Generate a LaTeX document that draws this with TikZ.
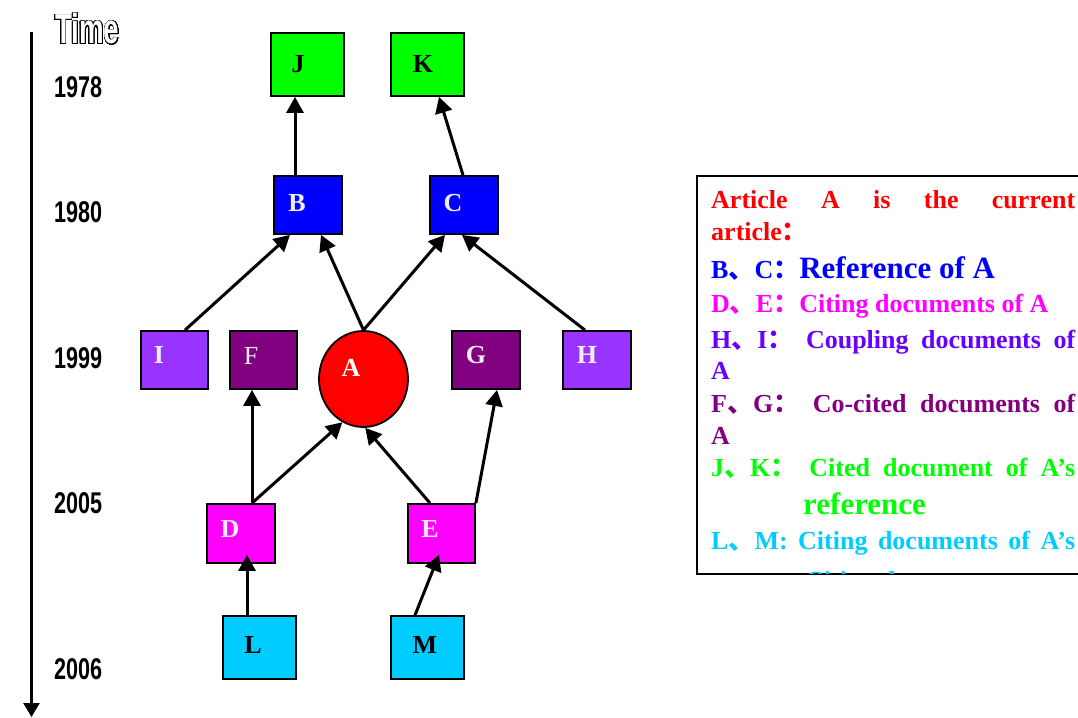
\documentclass[tikz,border=0pt]{standalone}
\usepackage{fontspec}
\setmainfont{Liberation Serif}
\newfontfamily\cjk{Noto Sans CJK SC}
\newfontfamily\yearfont[FakeStretch=0.72]{Liberation Sans}
\newfontfamily\timefont[FakeStretch=0.66]{Liberation Sans}
\usepackage{contour}
\contourlength{0.7pt}
\usetikzlibrary{arrows.meta,shapes.geometric,calc}
\definecolor{cGreen}{HTML}{00FF00}
\definecolor{cBlue}{HTML}{0000FF}
\definecolor{cLilac}{HTML}{9933FF}
\definecolor{cPlum}{HTML}{800080}
\definecolor{cRed}{HTML}{FF0000}
\definecolor{cMag}{HTML}{FF00FF}
\definecolor{cCyan}{HTML}{00CCFF}
\definecolor{cTxtPurple}{HTML}{6600FF}
\definecolor{cLabel}{HTML}{EEEEEE}
\begin{document}
\begin{tikzpicture}[x=1pt,y=-1pt,
  box/.style={draw=black, line width=1.8pt, inner sep=0pt},
  bigbox/.style={box, minimum width=73pt, minimum height=63pt},
  midbox/.style={box, minimum width=68pt, minimum height=58pt},
  lbl/.style={anchor=base, inner sep=0pt, font=\fontsize{26}{26}\selectfont\bfseries},
  conn/.style={line width=3pt, -{Triangle[length=16pt,width=17pt]}},
  year/.style={anchor=base west, inner sep=0pt, font=\yearfont\bfseries\fontsize{30}{30}\selectfont},
  leg/.style={anchor=base west, inner sep=0pt, font=\fontsize{26}{26}\selectfont\bfseries},
]
\useasboundingbox (0,0) rectangle (1078,717);

% time axis
\coordinate (ttop) at (31.5,32);
\coordinate (tbot) at (31.5,717);
\draw[line width=2.2pt,-{Triangle[length=14pt,width=16pt]}] (ttop) -- (tbot);
\node[anchor=base west, inner sep=0pt, text=white, font=\timefont\bfseries\fontsize{42}{42}\selectfont] (time) at (55,44) {\contour[40]{black}{Time}};
\node[year] (y1978) at (54,97) {1978};
\node[year] (y1980) at (54,222.5) {1980};
\node[year] (y1999) at (54,368) {1999};
\node[year] (y2005) at (54,513) {2005};
\node[year] (y2006) at (54,679) {2006};

% nodes
\node[bigbox, fill=cGreen] (J) at (307.5,64.5) {};
\node[bigbox, fill=cGreen] (K) at (427.5,64.5) {};
\node[midbox, fill=cBlue] (B) at (308,205) {};
\node[midbox, fill=cBlue] (C) at (464,205) {};
\node[midbox, minimum width=67pt, fill=cLilac] (I) at (174.5,360) {};
\node[midbox, minimum width=67pt, fill=cPlum] (F) at (263.5,360) {};
\node[ellipse, draw=black, line width=1.8pt, fill=cRed, inner sep=0pt, minimum width=89pt, minimum height=96pt] (A) at (363.5,379) {};
\node[midbox, fill=cPlum] (G) at (486,360) {};
\node[midbox, fill=cLilac] (H) at (597,360) {};
\node[midbox, minimum height=59pt, fill=cMag] (D) at (241,533.5) {};
\node[midbox, minimum width=67pt, minimum height=59pt, fill=cMag] (E) at (441.5,533.5) {};
\node[bigbox, fill=cCyan] (L) at (259.5,647.5) {};
\node[bigbox, fill=cCyan] (M) at (427.5,647.5) {};

% labels
\node[lbl] (Jl) at (298,72) {J};
\node[lbl] (Kl) at (423,72) {K};
\node[lbl, text=cLabel] (Bl) at (297,211) {B};
\node[lbl, text=cLabel] (Cl) at (453,211) {C};
\node[lbl, text=cLabel] (Il) at (159,363) {I};
\node[lbl, text=cLabel, font=\fontsize{26}{26}\selectfont] (Fl) at (251,364) {F};
\node[lbl, text=white] (Al) at (351,376) {A};
\node[lbl, text=cLabel] (Gl) at (476,363) {G};
\node[lbl, text=cLabel] (Hl) at (587,363) {H};
\node[lbl, text=cLabel] (Dl) at (230,537) {D};
\node[lbl, text=cLabel] (El) at (430,537) {E};
\node[lbl] (Ll) at (253,653) {L};
\node[lbl] (Ml) at (425,653) {M};

% connectors
\draw[conn] ([xshift=-13pt]B.north) -- ([xshift=-12.5pt]J.south);
\draw[conn] ([xshift=-1pt]C.north) -- ([xshift=11.5pt]K.south);
\draw[conn] ([xshift=10.5pt]I.north) -- ([xshift=-18pt]B.south);
\draw[conn] (A.north) -- ([xshift=13pt]B.south);
\draw[conn] (A.north) -- ([xshift=-19pt]C.south);
\draw[conn] ([xshift=-12pt]H.north) -- ([xshift=-2pt]C.south);
\draw[conn] ([xshift=11pt]D.north) -- ([xshift=-11.5pt]F.south);
\draw[conn] ([xshift=11pt]D.north) -- (A.-116);
\draw[conn] ([xshift=-11.5pt]E.north) -- (A.-88);
\draw[conn] (E.north east) -- ([xshift=11pt]G.south);
\draw[conn] ([xshift=-12.5pt]L.north) -- ([xshift=6pt,yshift=9pt]D.south);
\draw[conn] ([xshift=-12.5pt]M.north) -- ([xshift=-2.5pt,yshift=9pt]E.south);

% legend
\draw[line width=2.2pt] (1090,176) -- (697,176) -- (697,574) -- (1090,574);
\begin{scope}
\clip (698,177) rectangle (1078,573);
\node[leg, text=cRed] (t1) at (711,208.3) {\hbox to 364pt{Article\hfill A\hfill is\hfill the\hfill current}};
\node[leg, text=cRed] (t2) at (711,240) {article{\cjk ：}};
\node[leg, text=cBlue] (t3) at (711,278.3) {B{\cjk 、}C{\cjk ：}{\fontsize{31}{31}\selectfont Reference of A}};
\node[leg, text=cMag] (t4) at (711,312.7) {D{\cjk 、}E{\cjk ：}Citing documents of A};
\node[leg, text=cTxtPurple] (t5) at (711,348.3) {\hbox to 364pt{H{\cjk 、}I{\cjk ：}\hfill Coupling\hfill documents\hfill of}};
\node[leg, text=cTxtPurple] (t6) at (711,379.3) {A};
\node[leg, text=cPlum] (t7) at (711,412.3) {\hbox to 364pt{F{\cjk 、}G{\cjk ：}\hfill Co-cited\hfill documents\hfill of}};
\node[leg, text=cPlum] (t8) at (711,444) {A};
\node[leg, text=cGreen] (t9) at (711,476.7) {\hbox to 364pt{J{\cjk 、}K{\cjk ：}\hfill Cited\hfill document\hfill of\hfill A’s}};
\node[leg, text=cGreen, font=\fontsize{31}{31}\selectfont\bfseries] (t10) at (803,514.3) {reference};
\node[leg, text=cCyan] (t11) at (711,549) {\hbox to 364pt{L{\cjk 、}M:\hfill Citing\hfill documents\hfill of\hfill A’s}};
\node[leg, text=cCyan] (t12) at (805,589) {Citing documents};
\end{scope}
\end{tikzpicture}
\end{document}
